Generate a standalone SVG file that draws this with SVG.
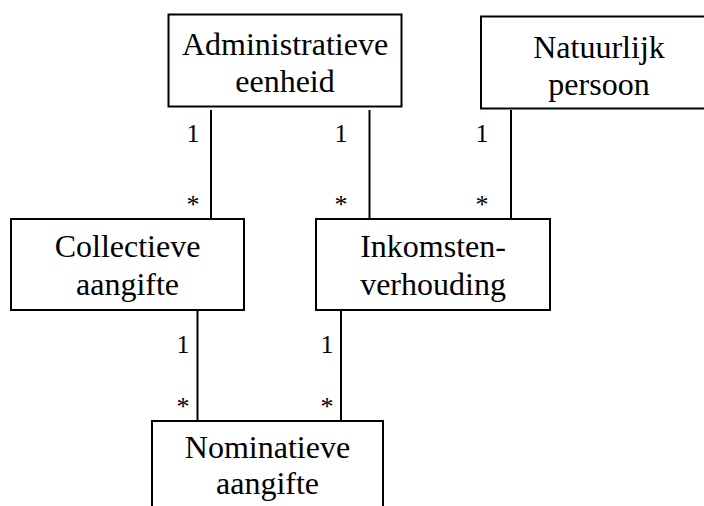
<svg xmlns="http://www.w3.org/2000/svg" width="704" height="506" viewBox="0 0 704 506">
<style>
.box{fill:#fff;stroke:#000;stroke-width:2}
.t{font-family:"Liberation Serif","Times New Roman",serif;font-size:32px;text-anchor:middle;fill:#000}
.m{font-family:"Liberation Serif","Times New Roman",serif;font-size:26px;text-anchor:middle;fill:#000}
.c{stroke:#000;stroke-width:2;fill:none}
</style>
<rect width="704" height="506" fill="#fff"/>
<g id="connectors">
<line class="c" x1="211" y1="110" x2="211" y2="219"/>
<line class="c" x1="369.5" y1="110" x2="369.5" y2="219"/>
<line class="c" x1="511" y1="110" x2="511" y2="219"/>
<line class="c" x1="197.5" y1="311" x2="197.5" y2="421"/>
<line class="c" x1="341" y1="311" x2="341" y2="421"/>
<text class="m" x="193" y="142">1</text>
<text class="m" x="193" y="213">*</text>
<text class="m" x="341" y="142">1</text>
<text class="m" x="341" y="213">*</text>
<text class="m" x="482" y="142">1</text>
<text class="m" x="482" y="213">*</text>
<text class="m" x="183" y="353">1</text>
<text class="m" x="183" y="415">*</text>
<text class="m" x="327" y="353">1</text>
<text class="m" x="327" y="415">*</text>
</g>
<g id="administratieve-eenheid">
<rect class="box" x="168.5" y="14.5" width="233" height="92"/>
<text class="t" x="285" y="55">Administratieve</text>
<text class="t" x="285" y="92">eenheid</text>
</g>
<g id="natuurlijk-persoon">
<rect class="box" x="481" y="16.5" width="237" height="92"/>
<text class="t" x="599" y="58">Natuurlijk</text>
<text class="t" x="599" y="95">persoon</text>
</g>
<g id="collectieve-aangifte">
<rect class="box" x="11" y="219" width="233" height="91"/>
<text class="t" x="127.5" y="257">Collectieve</text>
<text class="t" x="127.5" y="295">aangifte</text>
</g>
<g id="inkomstenverhouding">
<rect class="box" x="316" y="219" width="234" height="91"/>
<text class="t" x="433" y="257">Inkomsten-</text>
<text class="t" x="433" y="295">verhouding</text>
</g>
<g id="nominatieve-aangifte">
<rect class="box" x="152" y="421" width="231" height="100"/>
<text class="t" x="267.5" y="458">Nominatieve</text>
<text class="t" x="267.5" y="494">aangifte</text>
</g>
</svg>
